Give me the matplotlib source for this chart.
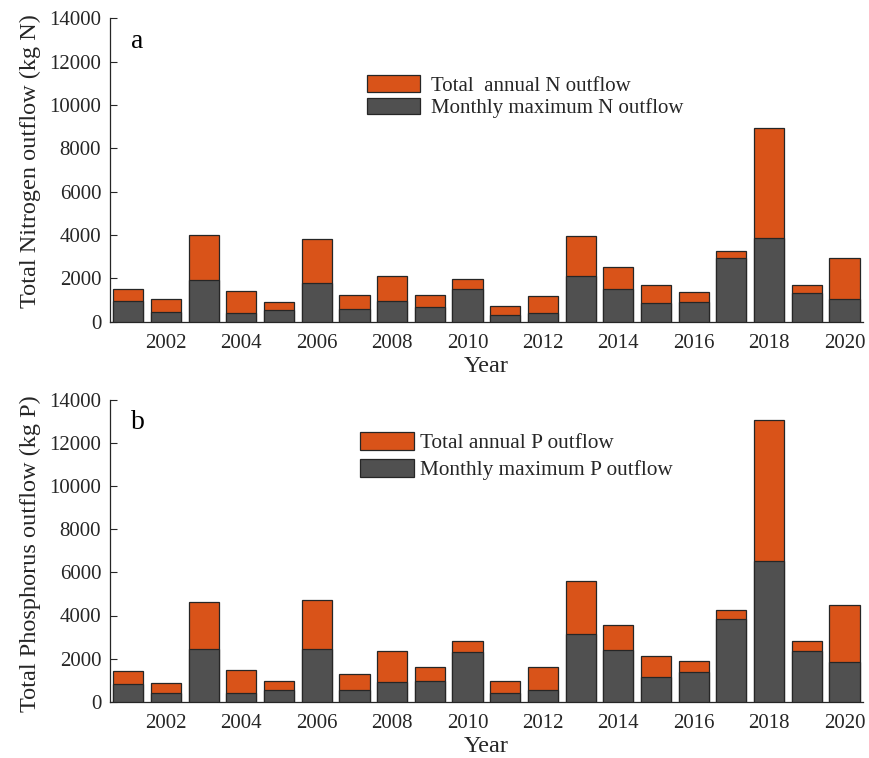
import numpy as np
import matplotlib
matplotlib.use("Agg")
import matplotlib.pyplot as plt

plt.rcParams["font.family"] = ["Liberation Serif", "DejaVu Serif"]

years = list(range(2001, 2021))

n_total = [1510, 1050, 4010, 1420, 910, 3830, 1230, 2090, 1250, 1950,
           720, 1180, 3950, 2510, 1680, 1350, 3260, 8940, 1680, 2950]
n_monthly_max = [940, 460, 1910, 400, 520, 1790, 590, 950, 660, 1510,
                 290, 400, 2120, 1510, 850, 890, 2950, 3860, 1320, 1050]

p_total = [1440, 850, 4630, 1490, 940, 4730, 1270, 2370, 1590, 2830,
           980, 1620, 5620, 3570, 2120, 1900, 4250, 13060, 2820, 4470]
p_monthly_max = [840, 390, 2430, 420, 540, 2430, 530, 910, 940, 2320,
                 420, 540, 3140, 2380, 1130, 1380, 3850, 6530, 2350, 1860]

x_ticks = list(range(2002, 2021, 2))
y_ticks = list(range(0, 14001, 2000))

ORANGE = "#D95319"
GRAY = "#505050"
EDGE = "#262626"
AXC = "#262626"

W, H = 869, 758
fig = plt.figure(figsize=(W / 100, H / 100), dpi=100)


def px_axes(left, top, right, bottom):
    return fig.add_axes([left / W, 1 - bottom / H, (right - left) / W, (bottom - top) / H])


def panel(ax, total, mmax, ylabel, ylabel_y, tag, leg_labels, leg_xy, leg_opts):
    b1 = ax.bar(years, total, width=0.8, color=ORANGE, edgecolor=EDGE, linewidth=0.9,
                label=leg_labels[0], zorder=2)
    b2 = ax.bar(years, mmax, width=0.8, color=GRAY, edgecolor=EDGE, linewidth=0.9,
                label=leg_labels[1], zorder=3)
    ax.set_xlim(2000.5, 2020.5)
    ax.set_ylim(0, 14000)
    ax.set_xticks(x_ticks)
    ax.set_yticks(y_ticks)
    ax.set_axisbelow(True)
    for s in ("top", "right"):
        ax.spines[s].set_visible(False)
    for s in ("left", "bottom"):
        ax.spines[s].set_color(AXC)
        ax.spines[s].set_linewidth(0.9)
    ax.tick_params(axis="both", direction="in", length=5, width=0.8, colors=AXC,
                   labelsize=15)
    ax.tick_params(axis="y", pad=6)
    ax.tick_params(axis="x", pad=9)
    ax.set_ylabel(ylabel, fontsize=17.5, color=AXC)
    ax.yaxis.set_label_coords(-0.0905, ylabel_y)
    ax.set_xlabel("Year", fontsize=17.5, color=AXC, labelpad=2)
    ax.text(0.028, 0.925, tag, transform=ax.transAxes, fontsize=20, color="black",
            va="center", ha="left")
    leg = ax.legend(handles=[b1, b2], loc="upper left",
                    bbox_to_anchor=(leg_xy[0] / W, 1 - leg_xy[1] / H),
                    bbox_transform=fig.transFigure, frameon=False,
                    handlelength=2.55, borderpad=0, borderaxespad=0, **leg_opts)
    for t in leg.get_texts():
        t.set_color(AXC)


ax1 = px_axes(109.5, 18.3, 863.3, 321.7)
panel(ax1, n_total, n_monthly_max, "Total Nitrogen outflow (kg N)", 0.53, "a",
      ["Total  annual N outflow", "Monthly maximum N outflow"], (366.7, 75),
      dict(fontsize=15, handleheight=0.85, handletextpad=0.56, labelspacing=0.1))

ax2 = px_axes(109.5, 400.0, 863.3, 701.7)
panel(ax2, p_total, p_monthly_max, "Total Phosphorus outflow (kg P)", 0.49, "b",
      ["Total annual P outflow", "Monthly maximum P outflow"], (360.0, 431.7),
      dict(fontsize=15.3, handleheight=0.95, handletextpad=0.25, labelspacing=0.26))

fig.savefig("out.png", dpi=100)
